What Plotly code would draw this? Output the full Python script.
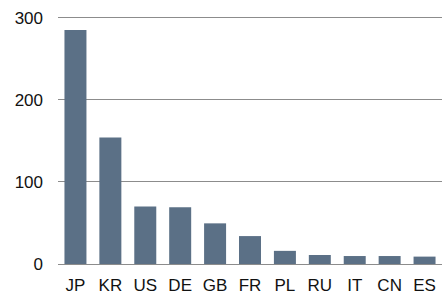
import plotly.graph_objects as go

countries = ["JP", "KR", "US", "DE", "GB", "FR", "PL", "RU", "IT", "CN", "ES"]
values = [285, 154, 70, 69, 49.5, 34, 16, 11, 9.7, 9.7, 9]
y_ticks = [0, 100, 200, 300]

fig = go.Figure(go.Bar(x=countries, y=values, marker_color="#5b7086",
                       marker_line_width=0))
fig.update_layout(
    width=442, height=296,
    margin=dict(l=58, r=0, t=16, b=32, autoexpand=False),
    paper_bgcolor="white", plot_bgcolor="white",
    bargap=0.37,
    showlegend=False,
    font=dict(family="Liberation Sans, Arial, sans-serif", size=17, color="#111111"),
)
fig.update_yaxes(range=[0, 302], tickvals=y_ticks, showgrid=True, gridcolor="#8c8c8c",
                 gridwidth=1, zeroline=True, zerolinecolor="#8c8c8c", zerolinewidth=1,
                 showline=False, ticklabelstandoff=14, automargin=False)
fig.update_xaxes(showgrid=False, showline=False, ticklabelstandoff=9, automargin=False)
fig.write_html("out.html", config={"displayModeBar": False},
               post_script="document.body.style.margin='0';document.body.style.overflow='hidden';")
